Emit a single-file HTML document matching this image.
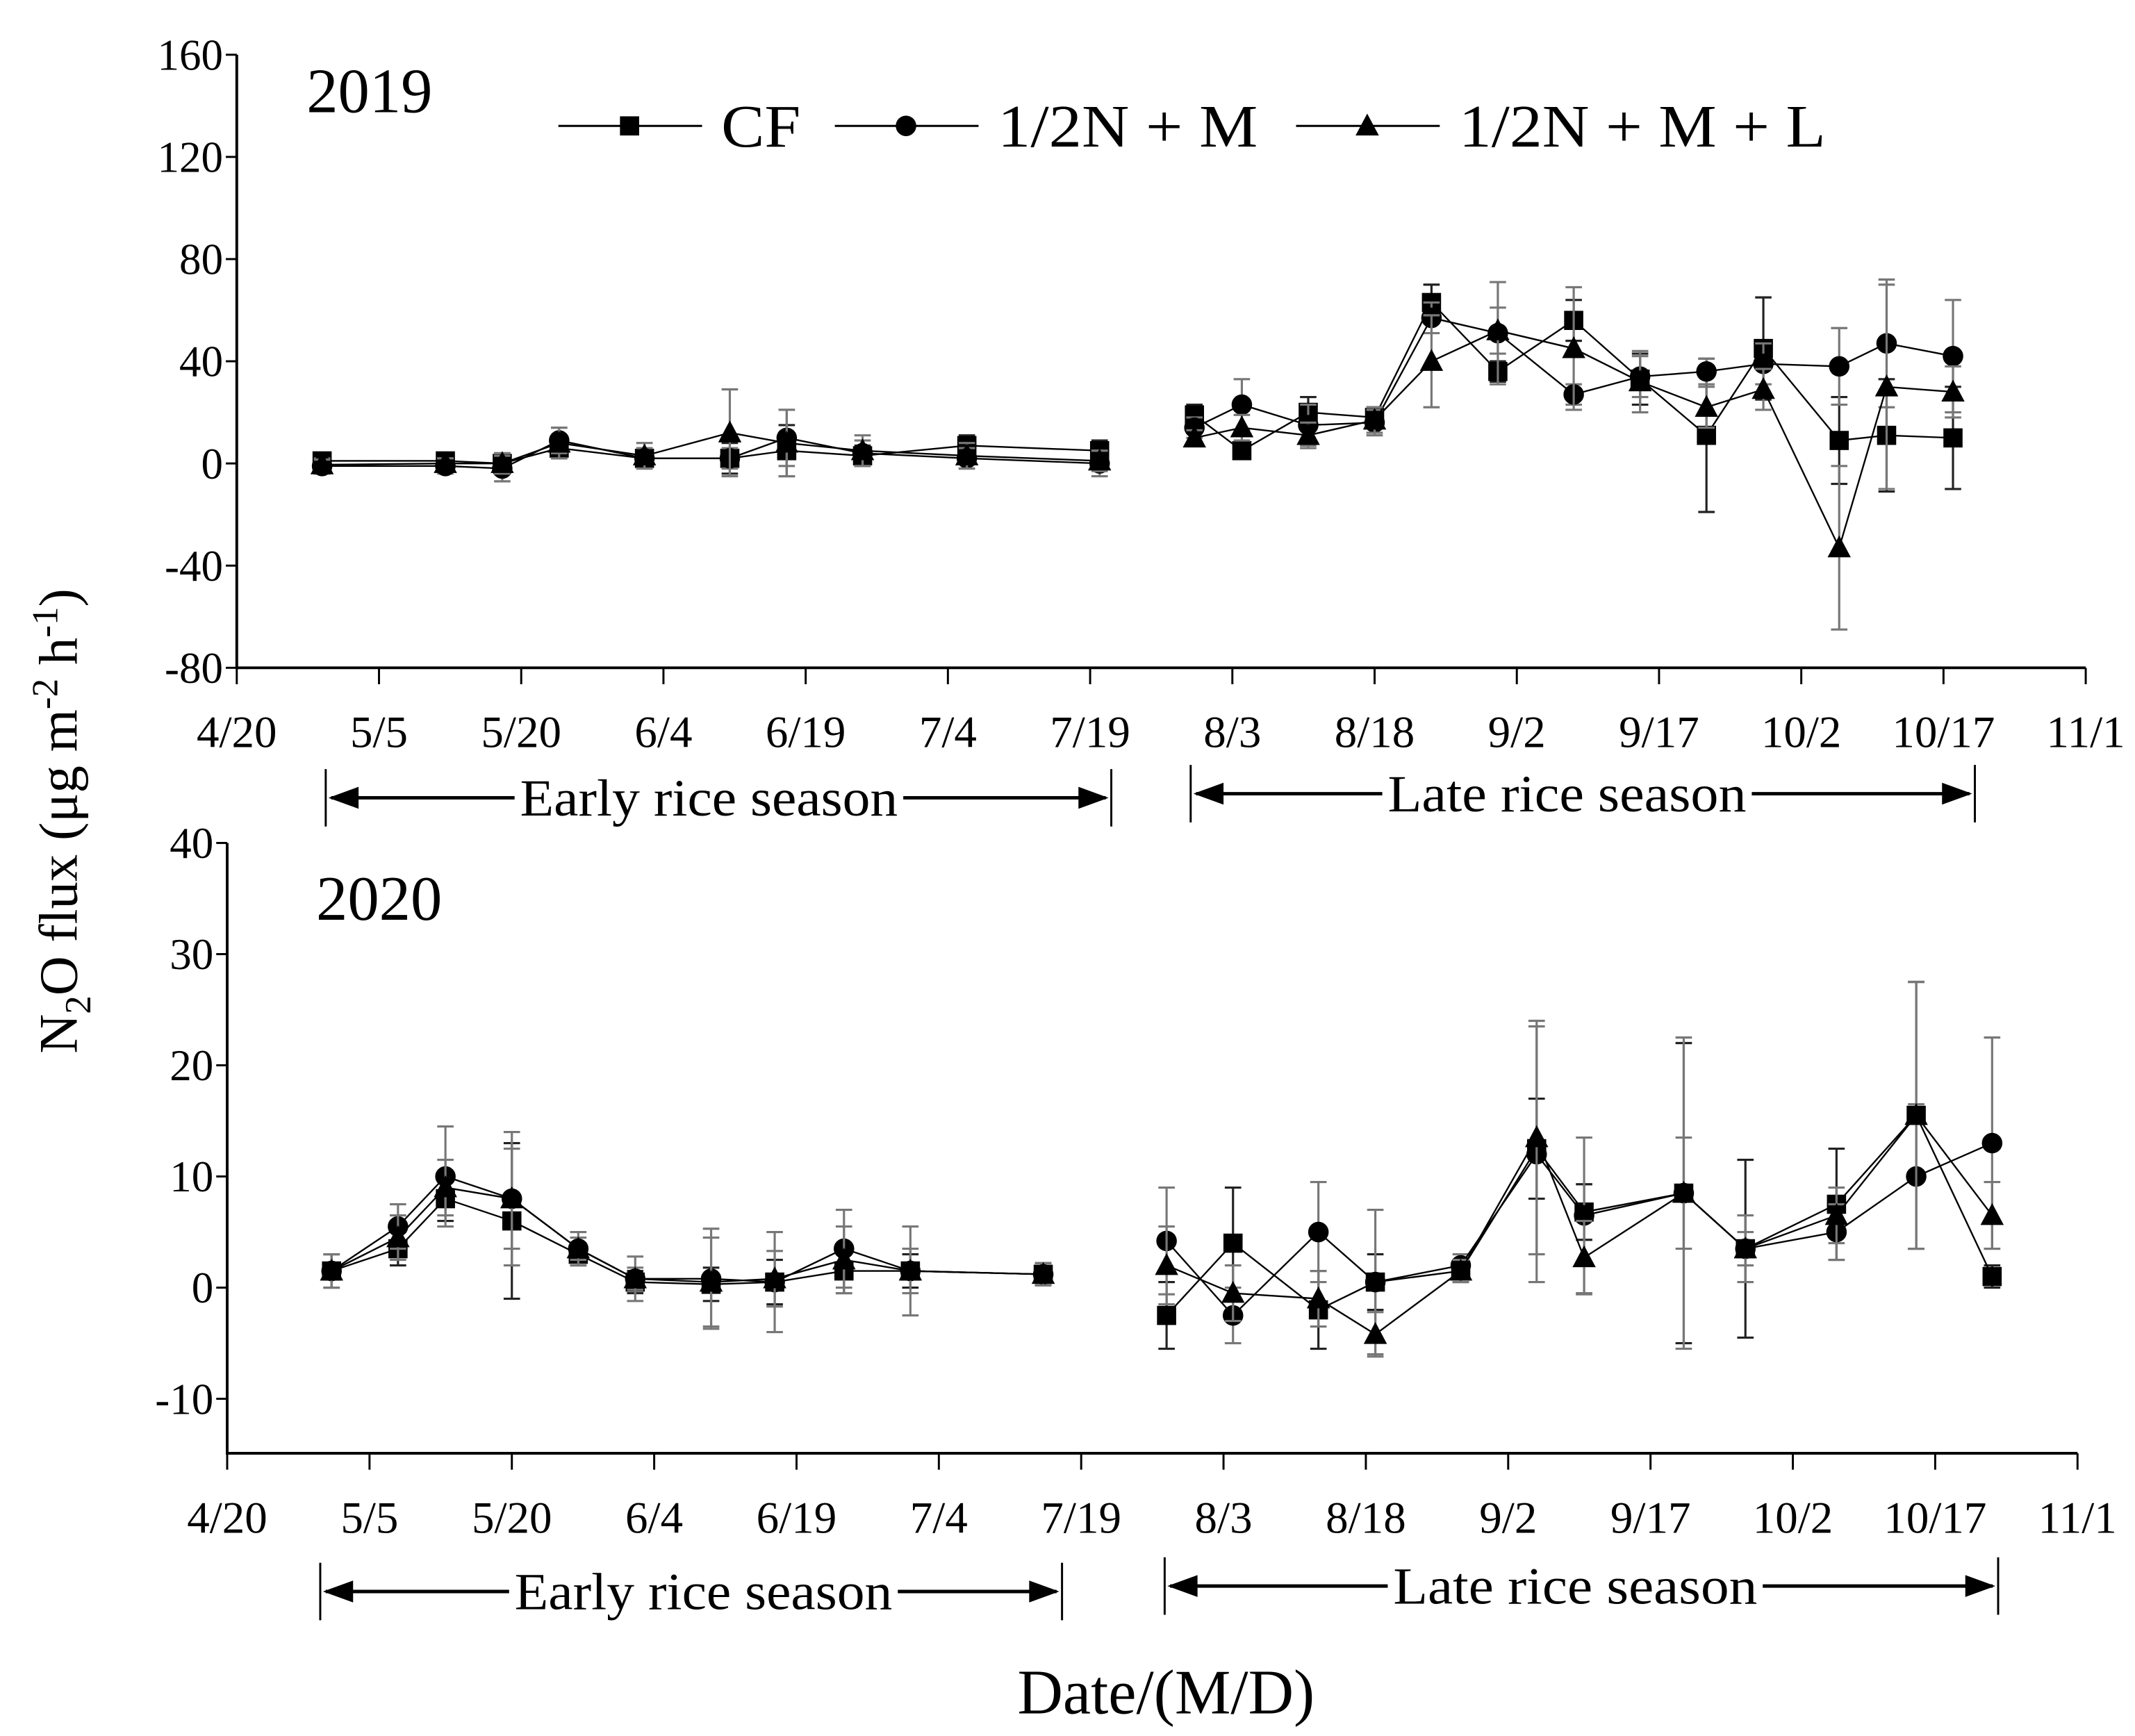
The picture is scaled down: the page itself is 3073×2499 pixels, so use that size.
<!DOCTYPE html>
<html><head><meta charset="utf-8"><style>
html,body{margin:0;padding:0;background:#fff}
svg{display:block}
text{font-family:"Liberation Serif",serif;fill:#000}
</style></head><body>
<svg id="chart" width="3073" height="2499" viewBox="0 0 1560 1268.6" preserveAspectRatio="none" xmlns="http://www.w3.org/2000/svg">
<g id="root"></g>
</svg>
<script>
// ---- 2019 data (day offsets from 4/20) ----
const days19 = [9,22,28,34,43,52,58,66,77,91,101,106,113,120,126,133,141,148,155,161,169,174,181];
const cf19 = [1,1,0,6,2,2,5,3,7,5,19,5,20,18,63,36,56,33,11,45,9,11,10];
const m19 = [-1,-1,-2,9,2,2,10,4,2,0,14,23,15,16,57,51,27,34,36,39,38,47,42];
const l19 = [-0.5,0,0,8,3,12,8,5,3,1,10,14,11,17,40,52,45,32,22,29,-33,30,28];
const cfErr19 = [3,3,4,4,3,6,10,4,4,4,4,3,6,4,7,4,8,10,30,20,17,22,20];
const mErr19 = [3,3,5,5,4,4,11,5,4,5,4,10,8,5,6,20,4,8,5,8,15,25,22];
const lErr19 = [2,2,4,6,5,17,13,6,5,4,3,5,5,5,18,9,24,12,8,8,32,40,10];
// ---- 2020 data ----
const days20 = [11,18,23,30,37,43,51,57.7,65,72,86,99,106,115,121,130,138,143,153.5,160,169.6,178,186];
const cf20 = [1.5,3.5,8,6,3,0.5,0.3,0.5,1.5,1.5,1.2,-2.5,4,-2,0.5,1.5,12.5,6.8,8.5,3.5,7.5,15.5,1];
const m20 = [1.5,5.5,10,8,3.5,0.8,0.8,0.5,3.5,1.5,1.2,4.2,-2.5,5,0.5,2,12,6.5,8.5,3.5,5,10,13];
const l20 = [1.5,4.5,9,8,3.5,0.8,0.5,0.8,2.5,1.5,1.2,2,-0.5,-1,-4.2,1.5,13.5,2.7,8.5,3.5,6.5,15.5,6.5];
const cfErr20 = [1.5,1.5,2,7,1,1,1.5,2,2,1.5,1,3,5,3.5,2.5,1,4.5,2.5,13.5,8,5,12,1];
const mErr20 = [1.5,2,4.5,6,1,2,4.5,4.5,3.5,2,1,4.8,2.5,4.5,6.5,1,11.5,7,5,3,2.5,6.5,9.5];
const lErr20 = [1.5,2,2.5,4.5,1.5,1,4,2.5,3,4,1,3.5,2.5,2.5,2,1,10.5,3.3,14,1.5,2.5,12,3];
const xTicks = ["4/20","5/5","5/20","6/4","6/19","7/4","7/19","8/3","8/18","9/2","9/17","10/2","10/17","11/1"];
const yTicks19 = [160,120,80,40,0,-40,-80];
const yTicks20 = [40,30,20,10,0,-10];

const NS="http://www.w3.org/2000/svg";
const root=document.getElementById('root');
function el(tag,attrs,parent){const e=document.createElementNS(NS,tag);for(const k in attrs)e.setAttribute(k,attrs[k]);(parent||root).appendChild(e);return e;}

function panel(cfg){
  const g=el('g',{});
  
  
  const X=d=>cfg.x0+(cfg.x1-cfg.x0)*d/195;
  const Y=v=>cfg.yTop+(cfg.ymax-v)/(cfg.ymax-cfg.ymin)*(cfg.yBot-cfg.yTop);
  const ax=el('path',{d:`M${cfg.x0},${cfg.yTop}V${cfg.yBot}H${cfg.x1}`,stroke:'#000','stroke-width':2,fill:'none'},g);
  
  
  cfg.yt.forEach(v=>{
    el('line',{x1:cfg.x0-8,x2:cfg.x0,y1:Y(v),y2:Y(v),stroke:'#000','stroke-width':1.5},g);
    const t=el('text',{x:cfg.x0-10,y:Y(v)+11,'text-anchor':'end','font-size':32},g);
    t.textContent=v;
    
    
  });
  xTicks.forEach((lab,i)=>{
    const x=X(i*15);
    el('line',{x1:x,x2:x,y1:cfg.yBot,y2:cfg.yBot+12,stroke:'#000','stroke-width':1.5},g);
    const t=el('text',{x:x,y:cfg.yBot+58,'text-anchor':'middle','font-size':33},g);
    t.textContent=lab;
    
    
  });
  const series=[[cfg.cf,cfg.cfE,'sq','#000'],[cfg.m,cfg.mE,'ci','#333'],[cfg.l,cfg.lE,'tr','#111']];
  series.forEach(([vals,errs,mk,col],si)=>{
    const sg=el('g',{},g);
    
    
    vals.forEach((v,i)=>{
      const x=X(cfg.days[i]);
      el('path',{d:`M${x},${Y(v-errs[i])}V${Y(v+errs[i])}M${x-6},${Y(v-errs[i])}h12M${x-6},${Y(v+errs[i])}h12`,stroke:si==0?'#222':'#777','stroke-width':1.6,fill:'none'},sg);
    });
    const pts=vals.map((v,i)=>X(cfg.days[i])+','+Y(v));
    const segA=pts.slice(0,cfg.split), segB=pts.slice(cfg.split);
    el('polyline',{points:segA.join(' '),stroke:'#000','stroke-width':1.2,fill:'none'},sg);
    el('polyline',{points:segB.join(' '),stroke:'#000','stroke-width':1.2,fill:'none'},sg);
    vals.forEach((v,i)=>{
      const x=X(cfg.days[i]),y=Y(v);
      let m;
      if(mk=='sq') m=el('rect',{x:x-7,y:y-7,width:14,height:14,fill:'#000'},sg);
      else if(mk=='ci') m=el('circle',{cx:x,cy:y,r:7.5,fill:'#000'},sg);
      else m=el('path',{d:`M${x},${y-9}L${x+8.5},${y+7}L${x-8.5},${y+7}Z`,fill:'#000'},sg);
      
      
    });
  });
  const yr=el('text',{x:cfg.yrX,y:cfg.yrY,'font-size':46},g);
  yr.textContent=cfg.year;
  
  
  cfg.seasons.forEach(s=>{
    const sg=el('g',{},g);
    
    
    el('line',{x1:s.a,x2:s.a,y1:s.y-21,y2:s.y+21,stroke:'#000','stroke-width':1.5},sg);
    el('line',{x1:s.b,x2:s.b,y1:s.y-21,y2:s.y+21,stroke:'#000','stroke-width':1.5},sg);
    el('line',{x1:s.a+4,x2:s.t1,y1:s.y,y2:s.y,stroke:'#000','stroke-width':2.5},sg);
    el('line',{x1:s.t2,x2:s.b-4,y1:s.y,y2:s.y,stroke:'#000','stroke-width':2.5},sg);
    el('path',{d:`M${s.a+2},${s.y}l22,-8v16Z`,fill:'#000'},sg);
    el('path',{d:`M${s.b-2},${s.y}l-22,-8v16Z`,fill:'#000'},sg);
    const t=el('text',{x:(s.t1+s.t2)/2,y:s.y+13,'text-anchor':'middle','font-size':38,textLength:s.t2-s.t1-8,lengthAdjust:'spacingAndGlyphs'},sg);
    t.textContent=s.label;
  });
}

panel({name:'panel-2019',x0:173,x1:1524,yTop:40,yBot:488,ymax:160,ymin:-80,yt:yTicks19,
  days:days19,cf:cf19,m:m19,l:l19,cfE:cfErr19,mE:mErr19,lE:lErr19,split:10,year:'2019',yrX:224,yrY:82,
  seasons:[{name:'early-season-2019',a:238,b:812,y:583,t1:376,t2:660,label:'Early rice season'},
           {name:'late-season-2019',a:870,b:1443,y:580,t1:1010,t2:1280,label:'Late rice season'}]});
panel({name:'panel-2020',x0:166,x1:1518,yTop:616,yBot:1062,ymax:40,ymin:-14.9,yt:yTicks20,
  days:days20,cf:cf20,m:m20,l:l20,cfE:cfErr20,mE:mErr20,lE:lErr20,split:11,year:'2020',yrX:231,yrY:672,
  seasons:[{name:'early-season-2020',a:234,b:776,y:1163,t1:372,t2:656,label:'Early rice season'},
           {name:'late-season-2020',a:851,b:1460,y:1159,t1:1014,t2:1288,label:'Late rice season'}]});

const lg=el('g',{});


[[408,'sq','CF',58],[610,'ci','1/2N + M',190],[947,'tr','1/2N + M + L',268]].forEach(([x0,mk,lab,w])=>{
  const eg=el('g',{},lg);
  
  
  el('line',{x1:x0,x2:x0+105,y1:92,y2:92,stroke:'#000','stroke-width':1.5},eg);
  const c=x0+52;
  if(mk=='sq') el('rect',{x:c-7,y:85,width:14,height:14,fill:'#000'},eg);
  else if(mk=='ci') el('circle',{cx:c,cy:92,r:7.5,fill:'#000'},eg);
  else el('path',{d:`M${c},83L${c+8.5},99L${c-8.5},99Z`,fill:'#000'},eg);
  const t=el('text',{x:x0+119,y:107,'font-size':44,textLength:w,lengthAdjust:'spacingAndGlyphs'},eg);
  t.textContent=lab;
});

const yt=el('text',{transform:'translate(56,600) rotate(-90)','text-anchor':'middle','font-size':40});


yt.innerHTML='N<tspan font-size="27" dy="10">2</tspan><tspan dy="-10">O flux (μg m</tspan><tspan font-size="27" dy="-14">-2</tspan><tspan dy="14"> h</tspan><tspan font-size="27" dy="-14">-1</tspan><tspan dy="14">)</tspan>';
const xt=el('text',{x:852,y:1252,'text-anchor':'middle','font-size':46});


xt.textContent='Date/(M/D)';
</script>
</body></html>
